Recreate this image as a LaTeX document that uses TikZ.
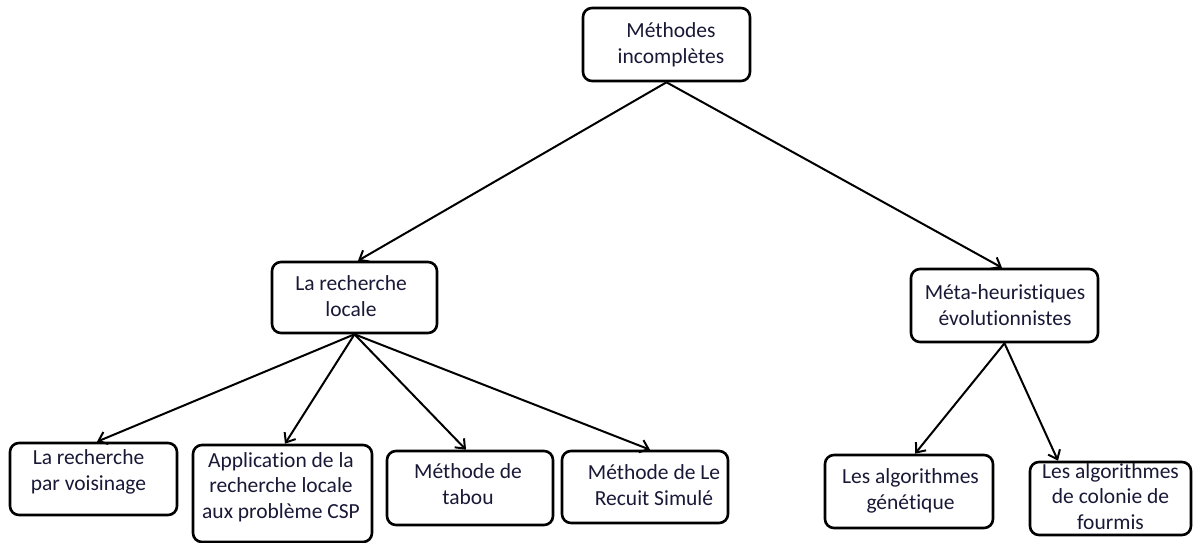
\documentclass[tikz,border=0pt]{standalone}
\usepackage{fontspec}
\setmainfont{Carlito}[Ligatures={NoCommon}]
\usetikzlibrary{arrows.meta}
\definecolor{ink}{RGB}{25,25,55}
\begin{document}
\begin{tikzpicture}[x=1pt,y=-1pt,
  box/.style={draw=black, line width=2.6pt, rounded corners=9pt, fill=white, inner sep=0pt},
  lbl/.style={align=center, font=\fontsize{21.5}{25.5}\selectfont, text=ink, inner sep=0pt},
  link/.style={line width=2pt, -{Straight Barb[length=8pt,width=13pt,line width=2pt]}}]
\useasboundingbox (0,0) rectangle (1194,543);

% frames of the tree
\node[box, minimum width=167pt, minimum height=73pt] (root) at (666.5,44.5) {};
\node[box, minimum width=165pt, minimum height=71pt] (loc)  at (354.5,297.5) {};
\node[box, minimum width=187pt, minimum height=73pt] (meta) at (1004.5,305.5) {};
\node[box, minimum width=167pt, minimum height=72pt] (b1) at (93.5,479) {};
\node[box, minimum width=179pt, minimum height=97pt] (b2) at (282.5,493.5) {};
\node[box, minimum width=166pt, minimum height=74pt] (b3) at (470,488) {};
\node[box, minimum width=166pt, minimum height=72pt] (b4) at (645,487) {};
\node[box, minimum width=168pt, minimum height=73pt] (b5) at (909,491.5) {};
\node[box, minimum width=161pt, minimum height=73pt] (b6) at (1110.5,498.5) {};

% texts inside the frames
\node[lbl] (rootT) at (671,45)    {Méthodes\\incomplètes};
\node[lbl] (locT)  at (351,296)   {La recherche\\locale};
\node[lbl] (metaT) at (1005,305)  {Méta-heuristiques\\évolutionnistes};
\node[lbl] (b1T)   at (88.5,472)  {La recherche\\par voisinage};
\node[lbl] (b2T)   at (281,487)   {Application de la\\recherche locale\\aux problème CSP};
\node[lbl] (b3T)   at (468,484)   {Méthode de\\tabou};
\node[lbl] (b4T)   at (654,485)   {Méthode de Le\\Recuit Simulé};
\node[lbl] (b5T)   at (910.5,491) {Les algorithmes\\génétique};
\node[lbl] (b6T)   at (1110.5,496.5) {Les algorithmes\\de colonie de\\fourmis};

% connectors
\draw[link] (root.south) -- ([xshift=3.5pt]loc.north);
\draw[link] (root.south) -- ([xshift=-2.5pt]meta.north);
\draw[link] (loc.south) -- ([xshift=3.5pt]b1.north);
\draw[link] (loc.south) -- ([xshift=2.5pt]b2.north);
\draw[link] (loc.south) -- ([xshift=-4pt]b3.north);
\draw[link] (loc.south) -- ([xshift=5pt]b4.north);
\draw[link] (meta.south) -- ([xshift=6pt]b5.north);
\draw[link] (meta.south) -- ([xshift=-52.5pt]b6.north);
\end{tikzpicture}
\end{document}
